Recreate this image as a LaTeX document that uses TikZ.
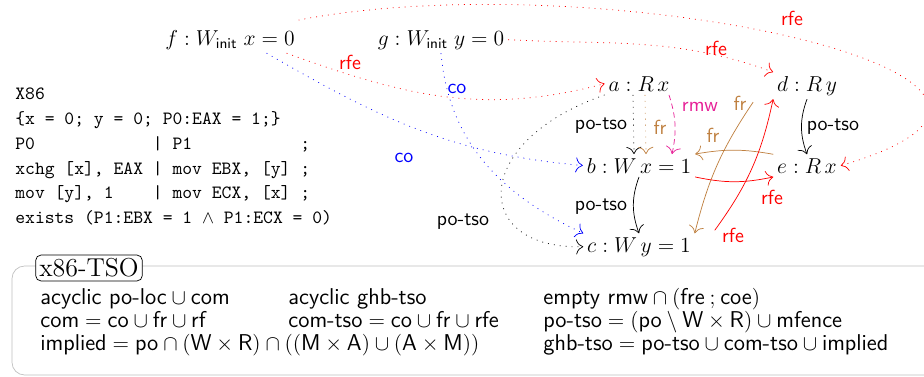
\documentclass[tikz,border=0pt]{standalone}
\usetikzlibrary{calc,arrows.meta}
\definecolor{rmwc}{RGB}{230,30,150}
\newcommand\rel[1]{\textsf{#1}}
\begin{document}
\begin{tikzpicture}[x=0.5556pt,y=0.5556pt,>={To[scale=1.6]},
  ev/.style={font=\fontsize{12}{14}\selectfont, inner sep=2pt, anchor=base},
  lab/.style={font=\sffamily\fontsize{11.3}{13}\selectfont, inner sep=0pt},
  code/.style={font=\ttfamily\fontsize{10.4}{12}\selectfont, inner sep=0pt, anchor=base west},
  frm/.style={font=\fontsize{12.7}{15}\selectfont, inner sep=0pt, anchor=base west},
  dots/.style={dash pattern=on 0.5pt off 2.8pt},
  rmwdash/.style={dash pattern=on 3pt off 2pt}]
\useasboundingbox (0,0) rectangle (924,-377);
% frame
\draw[black!25, rounded corners=7pt] (12,-375) rectangle (945,-266);
\node[draw, rounded corners=3pt, fill=white, font=\fontsize{14.4}{16}\selectfont, inner sep=2pt] (title) at (89,-268) {x86-TSO};
% code
\node[code] (c1) at (15,-99) {X86};
\node[code] (c2) at (15,-124) {\{x = 0; y = 0; P0:EAX = 1;\}};
\node[code] (c3) at (15,-149) {P0~~~~~~~~~~~~|~P1~~~~~~~~~~~;};
\node[code] (c4) at (15,-174) {xchg~[x],~EAX~|~mov~EBX,~[y]~;};
\node[code] (c5) at (15,-198) {mov~[y],~1~~~~|~mov~ECX,~[x]~;};
\node[code] (c6) at (15,-223) {exists (P1:EBX = 1 $\wedge$ P1:ECX = 0)};
% events
\node[ev] (f) at (230,-45) {$f : W_{\mathsf{init}}\;x = 0$};
\node[ev] (g) at (441,-45) {$g : W_{\mathsf{init}}\;y = 0$};
\node[ev] (a) at (639,-91) {$a : R\,x$};
\node[ev] (d) at (807,-91) {$d : R\,y$};
\node[ev] (b) at (639,-173) {$b : W\,x = 1$};
\node[ev] (e) at (807,-173) {$e : R\,x$};
\node[ev] (c) at (639,-252) {$c : W\,y = 1$};
% labels
\node[lab, red] (l1) at (350,-62) {rfe};
\node[lab, blue] (l2) at (457,-89) {co};
\node[lab, blue] (l3) at (404,-158) {co};
\node[lab, red] (l4) at (716,-48) {rfe};
\node[lab, red] (l5) at (792,-18) {rfe};
\node[lab] (l6) at (463,-222) {po-tso};
\node[lab] (l7) at (601,-126) {po-tso};
\node[lab, brown] (l8) at (660,-127) {fr};
\node[lab, rmwc] (l9) at (700,-107) {rmw};
\node[lab] (l10) at (601,-207) {po-tso};
\node[lab] (l11) at (833,-127) {po-tso};
\node[lab, brown] (l12) at (740,-103) {fr};
\node[lab, brown] (l13) at (713,-135) {fr};
\node[lab, red] (l14) at (772,-197) {rfe};
\node[lab, red] (l15) at (733,-235) {rfe};
% connectors
\draw[->, red, dots] ($(f.south east)+(-12,0)$) to[out=-20,in=195] (a.west);
\draw[->, blue, dots] ($(f.south east)+(-32,0)$) to[out=-30,in=175] (b.west);
\draw[->, blue, dots] (g.south) to[out=-85,in=155] (c.north west);
\draw[->, dots] (a.south west) .. controls +(-135,-47) and +(-112,-3) .. (c.west);
\draw[->, dots] ($(a.south)+(-6,0)$) -- ($(b.north)+(-5,0)$);
\draw[->, brown, dots] ($(a.south)+(6,0)$) -- ($(b.north)+(7,0)$);
\draw[->, rmwc, rmwdash] ($(a.south)+(30,0)$) to[bend left=15] ($(b.north)+(33,0)$);
\draw[->] (b.south) to[bend right=20] (c.north);
\draw[->] (d.south) to[bend right=20] (e.north);
\draw[->, brown] ($(d.south west)+(-20,-3)$) to[bend right=10] (c.north east);
\draw[->, brown] (e.north west) to[bend right=10] (b.north east);
\draw[->, red] (b.south east) to[bend right=12] (e.south west);
\draw[->, red] ($(c.north east)+(20,3)$) to[bend right=12] (d.south west);
\draw[->, red, dots] (g.east) to[out=-3,in=160] (d.north west);
\draw[->, red, dots] ($(f.north east)+(0,6)$) .. controls +(303,58) and +(300,88) .. (e.east);
% constraints
\node[frm] (r11) at (40,-304) {$\rel{acyclic}\ \rel{po-loc} \cup \rel{com}$};
\node[frm] (r12) at (288,-304) {$\rel{acyclic}\ \rel{ghb-tso}$};
\node[frm] (r13) at (543,-304) {$\rel{empty}\ \rel{rmw} \cap (\rel{fre}\mathbin{;}\rel{coe})$};
\node[frm] (r21) at (40,-327) {$\rel{com} = \rel{co} \cup \rel{fr} \cup \rel{rf}$};
\node[frm] (r22) at (288,-327) {$\rel{com-tso} = \rel{co} \cup \rel{fr} \cup \rel{rfe}$};
\node[frm] (r23) at (543,-327) {$\rel{po-tso} = (\rel{po} \setminus \rel{W} \times \rel{R}) \cup \rel{mfence}$};
\node[frm] (r31) at (40,-350) {$\rel{implied} = \rel{po} \cap (\rel{W} \times \rel{R}) \cap ((\rel{M} \times \rel{A}) \cup (\rel{A} \times \rel{M}))$};
\node[frm] (r33) at (543,-350) {$\rel{ghb-tso} = \rel{po-tso} \cup \rel{com-tso} \cup \rel{implied}$};
\end{tikzpicture}
\end{document}
